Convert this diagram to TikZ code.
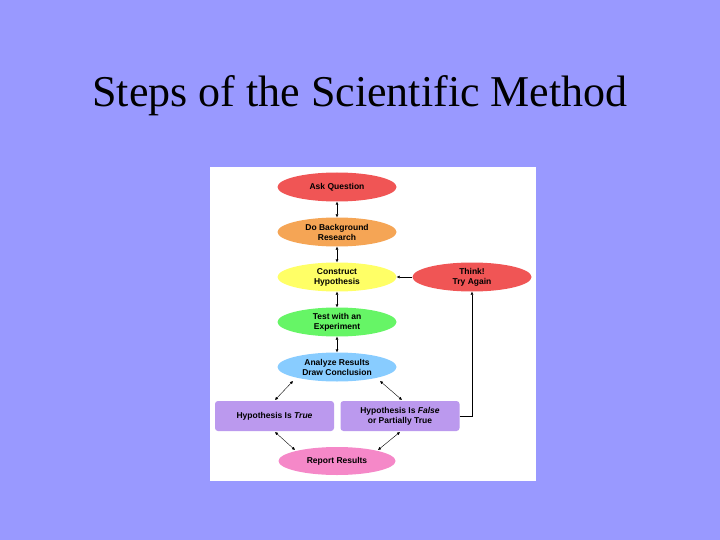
\documentclass[tikz,border=0pt]{standalone}
\usepackage{fontspec}
\setmainfont{Liberation Serif}
\newfontfamily\lsans{Liberation Sans}
\usetikzlibrary{shapes.geometric,arrows.meta}
\definecolor{bgc}{HTML}{9999FF}
\definecolor{cred}{HTML}{F05555}
\definecolor{corange}{HTML}{F5A555}
\definecolor{cyellow}{HTML}{FFFF66}
\definecolor{cgreen}{HTML}{66F566}
\definecolor{cblue}{HTML}{88CCFF}
\definecolor{cpurple}{HTML}{BB99EE}
\definecolor{cpink}{HTML}{F588C8}
\tikzset{
 ell/.style={ellipse,minimum width=119pt,minimum height=29pt,inner sep=0pt,align=center,
   font=\lsans\bfseries\fontsize{8.5}{10}\selectfont},
 rbox/.style={rectangle,rounded corners=3pt,minimum width=119pt,minimum height=30pt,inner sep=0pt,align=center,
   font=\lsans\bfseries\fontsize{8.5}{10}\selectfont},
 dbl/.style={{Latex[length=3pt,width=3pt]}-{Latex[length=3pt,width=3pt]},thin},
 sgl/.style={-{Latex[length=3pt,width=3pt]},thin}
}
\begin{document}
\begin{tikzpicture}[x=1pt,y=-1pt]
\fill[bgc] (0,0) rectangle (720,540);
\useasboundingbox (0,0) rectangle (720,540);
\node (title) at (360,96) {\fontsize{44}{50}\selectfont Steps of the Scientific Method};
\fill[white] (210,167) rectangle (536,481);
\node[ell,fill=cred] (ask) at (337,187) {Ask Question};
\node[ell,fill=corange] (bg) at (337,232) {Do Background\\Research};
\node[ell,fill=cyellow] (hyp) at (337,277) {Construct\\Hypothesis};
\node[ell,fill=cgreen] (test) at (337,322) {Test with an\\Experiment};
\node[ell,fill=cblue] (ana) at (337,367) {Analyze Results\\Draw Conclusion};
\node[ell,fill=cred] (think) at (472,277) {Think!\\Try Again};
\node[rbox,fill=cpurple] (tru) at (274.5,416) {Hypothesis Is \textit{True}};
\node[rbox,fill=cpurple] (fal) at (400,416) {Hypothesis Is \textit{False}\\or Partially True};
\node[ell,fill=cpink,minimum width=117pt,minimum height=28pt] (rep) at (337,461) {Report Results};
\draw[dbl] (ask) -- (bg);
\draw[dbl] (bg) -- (hyp);
\draw[dbl] (hyp) -- (test);
\draw[dbl] (test) -- (ana);
\coordinate (a1) at (293,381); \coordinate (t1) at (275,400);
\coordinate (a2) at (380,381); \coordinate (f1) at (402,400);
\coordinate (t2) at (275,432); \coordinate (r1) at (295,450);
\coordinate (f2) at (400,432); \coordinate (r2) at (378,450);
\draw[dbl] (a1) -- (t1);
\draw[dbl] (a2) -- (f1);
\draw[dbl] (t2) -- (r1);
\draw[dbl] (f2) -- (r2);
\draw[sgl] (fal.east) -| (think.south);
\draw[sgl] (think) -- (hyp);
\end{tikzpicture}
\end{document}
